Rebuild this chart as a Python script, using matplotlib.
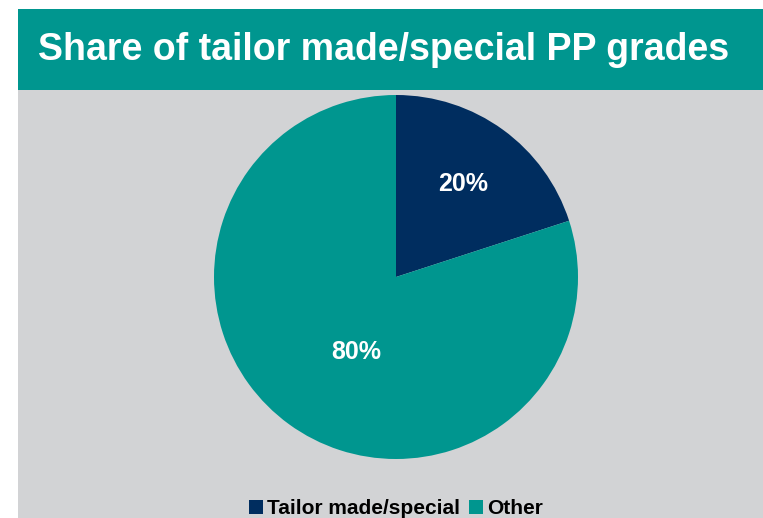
import matplotlib
matplotlib.use("Agg")
import matplotlib.pyplot as plt
from matplotlib.patches import Rectangle, Patch
import numpy as np

plt.rcParams['font.family'] = ['Liberation Sans', 'DejaVu Sans']

title = "Share of tailor made/special PP grades"
categories = ["Tailor made/special", "Other"]
values = [20, 80]
labels = ["20%", "80%"]

NAVY = "#002D5F"
TEAL = "#00968F"
GRAY = "#D2D3D5"

W, H = 763, 518
fig = plt.figure(figsize=(W / 100, H / 100), dpi=100)
fig.patch.set_facecolor("white")

# panel backgrounds
fig.patches.append(Rectangle((18 / W, 0), 1 - 18 / W, (H - 90) / H,
                             transform=fig.transFigure, facecolor=GRAY, edgecolor="none", zorder=-5))
fig.patches.append(Rectangle((18 / W, (H - 90) / H), 1 - 18 / W, 81 / H,
                             transform=fig.transFigure, facecolor=TEAL, edgecolor="none", zorder=-5))
fig.text(38 / W, 1 - 50 / H, title, color="white", fontsize=27, fontweight="bold",
         ha="left", va="center", zorder=5)

cx, cy, r = 396, 277, 182
ax = fig.add_axes([(cx - r) / W, (H - cy - r) / H, 2 * r / W, 2 * r / H])
ax.set_zorder(3)
ax.set_facecolor("none")
wedges, _ = ax.pie(values, colors=[NAVY, TEAL], startangle=90, counterclock=False,
                   wedgeprops=dict(linewidth=0))
ax.set_xlim(-1, 1)
ax.set_ylim(-1, 1)
ax.set_aspect("equal")
ax.axis("off")

# label placement (fraction of radius, angle offset in degrees)
placements = [(0.63, 0.0), (0.465, 8.0)]
for w, lab, (rf, off) in zip(wedges, labels, placements):
    ang = np.deg2rad((w.theta1 + w.theta2) / 2 + off)
    ax.text(rf * np.cos(ang), rf * np.sin(ang), lab, color="white", fontsize=18,
            fontweight="bold", ha="center", va="center")

handles = [Patch(facecolor=c, edgecolor="none") for c in [NAVY, TEAL]]
leg = fig.legend(handles, categories, loc="center", bbox_to_anchor=(396 / W, 1 - 509 / H),
                 ncol=2, frameon=False, prop=dict(size=15, weight="bold"),
                 handlelength=0.65, handleheight=0.65, handletextpad=0.2, columnspacing=0.45,
                 borderpad=0, borderaxespad=0)
leg.set_zorder(5)

fig.savefig("out.png", dpi=100, facecolor=fig.get_facecolor())
